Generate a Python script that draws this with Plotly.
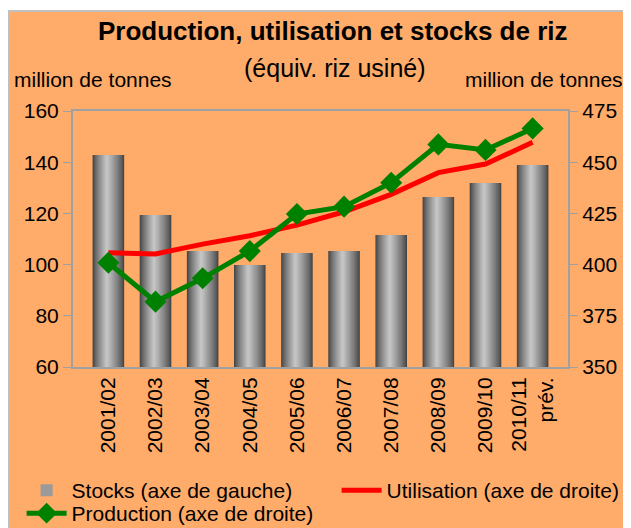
import plotly.graph_objects as go

categories = ["2001/02", "2002/03", "2003/04", "2004/05", "2005/06",
              "2006/07", "2007/08", "2008/09", "2009/10", "2010/11<br>prév."]
stocks = [142.8, 119.4, 105.3, 99.8, 104.5, 105.3, 111.6, 126.4, 131.9, 138.9]
utilisation = [405.8, 405.2, 410.0, 414.1, 419.3, 425.8, 434.3, 444.9, 449.1, 459.7]
production = [400.9, 381.9, 393.3, 406.6, 424.7, 428.3, 440.0, 458.7, 456.0, 466.5]

W, H = 631, 528
ML, MR, MT, MB = 65, 71, 103, 169
PW, PH = W - ML - MR, H - MT - MB
ORANGE = "#FFAB69"
FONT = "Liberation Sans, Arial, sans-serif"


def px(x):
    return (x - ML) / PW


def py(y):
    return (H - MB - y) / PH


fig = go.Figure()

# cylinder-like gradient bars built from overlaid layers
BW = 0.67
N = 14
hl = 0.45
dark, light = 70, 196
for k in range(N):
    frac = k / N
    left = hl * frac * BW
    right = BW - (1 - hl) * frac * BW
    t = (k / (N - 1)) ** 0.8
    v = int(dark + (light - dark) * t)
    col = f"rgb({v},{v},{v})"
    fig.add_trace(go.Bar(
        x=categories, y=stocks, width=right - left, offset=-BW / 2 + left,
        marker=dict(color=col, line=dict(width=0)),
        name="Stocks (axe de gauche)", showlegend=False, hoverinfo="skip",
        yaxis="y"))

# legend entry for stocks
fig.add_trace(go.Bar(
    x=[None], y=[None], marker=dict(color="#9a9a9a", line=dict(width=0)),
    name="Stocks (axe de gauche)", showlegend=True, legend="legend"))

fig.add_trace(go.Scatter(
    x=categories, y=utilisation, mode="lines", name="Utilisation (axe de droite)",
    line=dict(color="#FF0000", width=5), yaxis="y2", legend="legend2"))

fig.add_trace(go.Scatter(
    x=categories, y=production, mode="lines+markers", name="Production (axe de droite)",
    line=dict(color="#008000", width=5),
    marker=dict(symbol="diamond", size=17, color="#008000"),
    yaxis="y2", legend="legend3"))

leg_common = dict(orientation="h", xref="container", yref="container",
                  xanchor="left", yanchor="top", font=dict(size=21),
                  bgcolor="rgba(0,0,0,0)", itemwidth=40)

fig.update_layout(
    width=W, height=H,
    margin=dict(l=ML, r=MR, t=MT, b=MB, pad=0),
    paper_bgcolor="white", plot_bgcolor="white",
    barmode="overlay",
    font=dict(family=FONT, size=21, color="black"),
    showlegend=True,
    legend=dict(x=13.6 / W, y=66 / H, **leg_common),
    legend2=dict(x=328.6 / W, y=66 / H, **leg_common),
    legend3=dict(x=13.6 / W, y=43 / H, **leg_common),
    xaxis=dict(tickangle=-90, showline=True, linecolor="#A0A0A0", linewidth=2,
               mirror=True, ticks="", tickfont=dict(size=21), showgrid=False),
    yaxis=dict(range=[60, 160], dtick=20, showline=True, linecolor="#A0A0A0",
               linewidth=2, ticks="outside", ticklen=8, tickcolor="#A0A0A0",
               tickfont=dict(size=21), showgrid=False, zeroline=False),
    yaxis2=dict(range=[350, 475], dtick=25, overlaying="y", side="right",
                showline=True, linecolor="#A0A0A0", linewidth=2,
                ticks="outside", ticklen=8, tickcolor="#A0A0A0",
                tickfont=dict(size=21), showgrid=False, zeroline=False),
    shapes=[dict(type="rect", xref="paper", yref="paper",
                 x0=px(0.5), x1=px(700), y0=py(700), y1=py(3),
                 fillcolor=ORANGE, line=dict(color="#C0C0C0", width=2),
                 layer="below")],
    annotations=[
        dict(text="<b>Production, utilisation et stocks de riz</b>", xref="paper", yref="paper",
             x=px(325), y=py(23), yanchor="middle", showarrow=False, font=dict(size=26)),
        dict(text="(équiv. riz usiné)", xref="paper", yref="paper",
             x=px(327), y=py(60), yanchor="middle", showarrow=False, font=dict(size=25)),
        dict(text="million de tonnes", xref="paper", yref="paper",
             x=px(4), y=py(71), xanchor="left", yanchor="middle", showarrow=False,
             font=dict(size=21)),
        dict(text="million de tonnes", xref="paper", yref="paper",
             x=px(617), y=py(71), xanchor="right", yanchor="middle", showarrow=False,
             font=dict(size=21)),
    ],
)

fig.write_html("out.html")
